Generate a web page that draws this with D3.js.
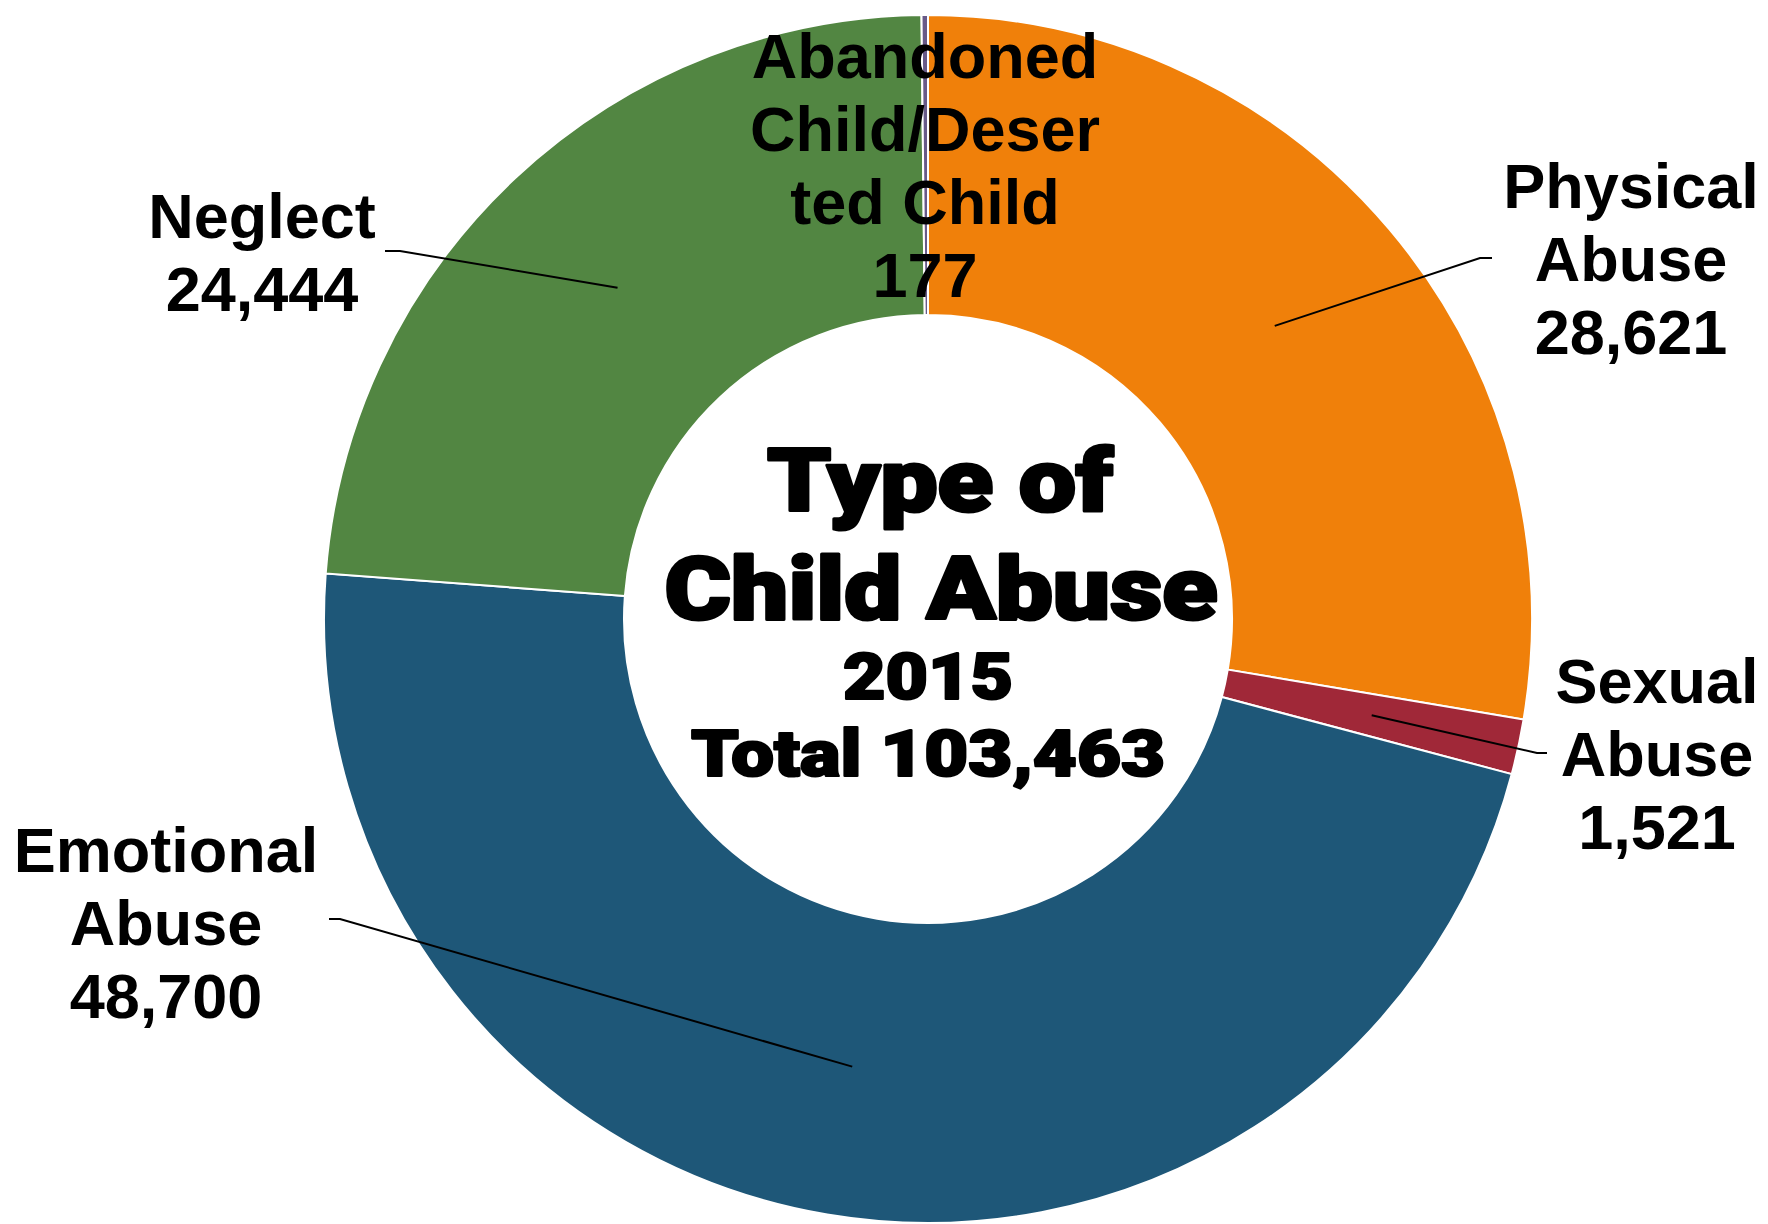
<!DOCTYPE html>
<html>
<head>
<meta charset="utf-8">
<script src="https://cdn.jsdelivr.net/npm/d3@7/dist/d3.min.js"></script>
<style>
  body { margin: 0; background: #fff; }
  svg { display: block; }
</style>
</head>
<body>
<svg id="chart" width="1768" height="1224"></svg>
<script>
// data, clockwise from 12 o'clock
const categories = ['Physical Abuse', 'Sexual Abuse', 'Emotional Abuse', 'Neglect', 'Abandoned Child/Deserted Child'];
const values = [28621, 1521, 48700, 24444, 177];
const colors = ['#f0800a', '#a02838', '#1e5778', '#528642', '#685a88'];
const labelLines = [
  ['Physical', 'Abuse'],
  ['Sexual', 'Abuse'],
  ['Emotional', 'Abuse'],
  ['Neglect'],
  ['Abandoned', 'Child/Deser', 'ted Child'],
];
const titleLines = ['Type of', 'Child Abuse', '2015'];

// label placement relative to the centre (x, first baseline, leader elbow, leader end)
const labelLayout = [
  { x: 703, y: -411, elbow: [552, -361], end: [564, -361] },
  { x: 729, y: 84, elbow: [609, 134], end: [619, 134] },
  { x: -762, y: 253, elbow: [-588, 300], end: [-599, 300] },
  { x: -666, y: -381, elbow: [-528, -368], end: [-543, -368] },
  { x: -3, y: -541, elbow: null, end: null },
];

const svg = d3.select('#chart');
const cx = 928;
const cy = 619;
const outerR = 604;
const innerR = 304;
const lineH = 73;
const fmt = d3.format(',');

const data = categories.map((name, i) => ({ name, value: values[i], color: colors[i], lines: labelLines[i], pos: labelLayout[i] }));
const total = d3.sum(values);

const pie = d3.pie()
  .value(d => d.value)
  .sort(null);

const arc = d3.arc()
  .innerRadius(innerR)
  .outerRadius(outerR);

const g = svg.append('g').attr('transform', `translate(${cx},${cy})`);
const arcs = pie(data);

g.selectAll('path.slice')
  .data(arcs)
  .enter().append('path')
  .attr('class', 'slice')
  .attr('d', arc)
  .attr('fill', d => d.data.color)
  .attr('stroke', '#fff')
  .attr('stroke-width', 2);

// leader lines from slice centroid to the label
g.selectAll('path.leader')
  .data(arcs.filter(d => d.data.pos.elbow))
  .enter().append('path')
  .attr('class', 'leader')
  .attr('fill', 'none')
  .attr('stroke', '#000')
  .attr('stroke-width', 2)
  .attr('d', d => d3.line()([arc.centroid(d), d.data.pos.elbow, d.data.pos.end]));

const labels = g.selectAll('text.label')
  .data(arcs)
  .enter().append('text')
  .attr('class', 'label')
  .attr('text-anchor', 'middle')
  .attr('font-family', '"Liberation Sans", Arial, sans-serif')
  .attr('font-weight', 'bold')
  .attr('font-size', 63)
  .attr('fill', '#000');

labels.selectAll('tspan')
  .data(d => d.data.lines.concat([fmt(d.data.value)]).map(t => ({ t, pos: d.data.pos })))
  .enter().append('tspan')
  .attr('x', d => d.pos.x)
  .attr('y', (d, i) => d.pos.y + i * lineH)
  .text(d => d.t);

// centre title
const titles = titleLines.concat(['Total ' + fmt(total)]);
const titleSize = [87, 87, 64, 64];
const titleY = [-108, 0, 80, 157];
const titleDx = [12, 13, 0, 0];
const titleW = [346, 553, 170, 474];

g.selectAll('text.title')
  .data(titles)
  .enter().append('text')
  .attr('class', 'title')
  .attr('text-anchor', 'middle')
  .attr('font-family', '"Arial Black", Roboto, "Liberation Sans", sans-serif')
  .attr('font-weight', 900)
  .attr('font-size', (d, i) => titleSize[i])
  .attr('x', (d, i) => titleDx[i])
  .attr('y', (d, i) => titleY[i])
  .attr('textLength', (d, i) => titleW[i])
  .attr('lengthAdjust', 'spacingAndGlyphs')
  .attr('fill', '#000')
  .attr('stroke', '#000')
  .attr('stroke-width', (d, i) => i < 2 ? 3 : 2.2)
  .attr('stroke-linejoin', 'round')
  .text(d => d);
</script>
</body>
</html>
